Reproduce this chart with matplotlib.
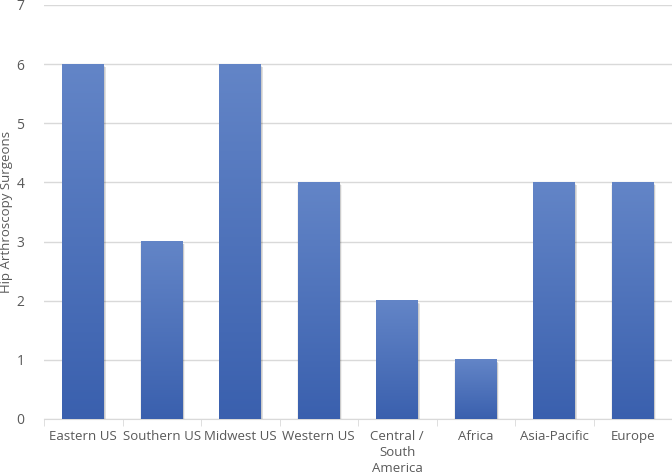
import numpy as np
import matplotlib
matplotlib.use("Agg")
import matplotlib.pyplot as plt
from matplotlib.colors import LinearSegmentedColormap
from matplotlib.patches import Rectangle

categories = ["Eastern US", "Southern US", "Midwest US", "Western US",
              "Central /\nSouth\nAmerica", "Africa", "Asia-Pacific", "Europe"]
values = [6, 3, 6, 4, 2, 1, 4, 4]
yticks = [0, 1, 2, 3, 4, 5, 6, 7]
ylabel = "Hip Arthroscopy Surgeons"

plt.rcParams['font.family'] = ['Open Sans', 'DejaVu Sans']
fig = plt.figure(figsize=(6.72, 4.74), dpi=100)
ax = fig.add_axes([44/672, 1-419/474, 628/672, (419-5)/474])

n = len(categories)
x = np.arange(n)
width = 0.53
cmap = LinearSegmentedColormap.from_list("g", ["#3a60ae", "#6385c7"])
grad = np.linspace(0, 1, 256).reshape(-1, 1)

ax.set_xlim(-0.5, n - 0.5)
ax.set_ylim(0, 7)

for xi, v in zip(x, values):
    # soft shadow
    for k, a in [(0.035, 0.05), (0.022, 0.07), (0.01, 0.09)]:
        sh = Rectangle((xi - width/2 - k/2 + 0.01, -0.03 - k), width + k, v + k/2,
                       facecolor="#000000", alpha=a, edgecolor="none", zorder=2)
        ax.add_patch(sh)
    ax.imshow(grad, cmap=cmap, origin="lower", aspect="auto",
              extent=(xi - width/2, xi + width/2, 0, v), zorder=3,
              interpolation="bicubic")

ax.set_xlim(-0.5, n - 0.5)
ax.set_ylim(0, 7)
ax.set_yticks(yticks)
ax.yaxis.grid(True, color="#d9d9d9", linewidth=1)
ax.set_axisbelow(True)
for s in ["top", "right", "left"]:
    ax.spines[s].set_visible(False)
ax.spines["bottom"].set_color("#d9d9d9")
ax.spines["bottom"].set_zorder(1)

ax.set_xticks(x)
ax.set_xticklabels(categories, fontsize=9.5, color="#595959", linespacing=1.3)
ax.tick_params(axis="x", length=0, pad=8)
ax.set_xticks(np.arange(-0.5, n, 1), minor=True)
ax.tick_params(axis="x", which="minor", length=5, color="#d9d9d9")
ax.tick_params(axis="y", length=0, labelsize=10, labelcolor="#595959", pad=14)
fig.text(7/672, 1-212/474, ylabel, rotation=90, va="center", ha="center",
         fontsize=9.5, color="#595959")

fig.savefig("out.png", dpi=100)
